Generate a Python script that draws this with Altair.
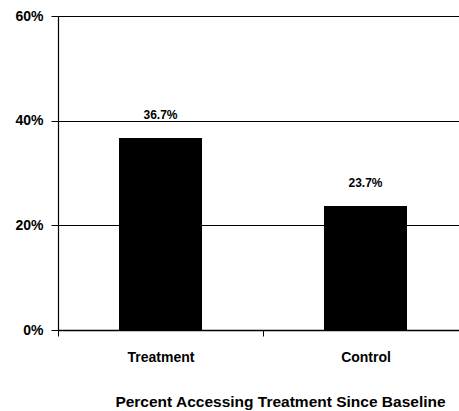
import altair as alt
import pandas as pd

# Share of participants accessing treatment since baseline
groups = ["Treatment", "Control"]
shares = [0.367, 0.237]
y_ticks = [0, 0.2, 0.4, 0.6]

df = pd.DataFrame({"group": groups, "share": shares})

FONT = "Liberation Sans"

base = alt.Chart(df).encode(
    x=alt.X(
        "group:N",
        sort=groups,
        scale=alt.Scale(range=[0, 410], paddingInner=0, paddingOuter=0),
        axis=alt.Axis(
            title="Percent Accessing Treatment Since Baseline",
            titleFont=FONT,
            titleFontSize=15.5,
            titleFontWeight="bold",
            titleColor="black",
            titleX=222,
            titleY=64,
            titleAnchor="middle",
            labelFont=FONT,
            labelFontSize=14,
            labelFontWeight="bold",
            labelColor="black",
            labelAngle=0,
            labelPadding=14,
            tickBand="extent",
            tickSize=6,
            tickColor="black",
            tickWidth=1,
            domainColor="black",
            domainWidth=1.5,
            grid=False,
        ),
    ),
    y=alt.Y(
        "share:Q",
        scale=alt.Scale(domain=[0, 0.6], nice=False),
        axis=alt.Axis(
            title=None,
            values=y_ticks,
            format=".0%",
            labelFont=FONT,
            labelFontSize=14,
            labelFontWeight="bold",
            labelColor="black",
            labelPadding=8,
            tickSize=7,
            tickColor="black",
            domainColor="black",
            domainWidth=1.2,
            grid=True,
            gridColor="black",
            gridWidth=1.2,
            gridOpacity=1,
        ),
    ),
)

bars = base.mark_bar(color="black", width=alt.RelativeBandSize(0.405))

labels = base.mark_text(
    font=FONT,
    fontSize=12,
    fontWeight="bold",
    color="black",
    baseline="alphabetic",
    dy=-19,
).encode(text=alt.Text("share:Q", format=".1%"))

chart = (
    alt.layer(bars, labels)
    .properties(
        width=401,
        height=314,
        autosize=alt.AutoSizeParams(type="none"),
        padding={"left": 58, "top": 16, "right": 0, "bottom": 81},
        background="white",
    )
    .configure_view(stroke=None)
)

chart.save("out.html", embed_options={"renderer": "svg", "actions": False})
